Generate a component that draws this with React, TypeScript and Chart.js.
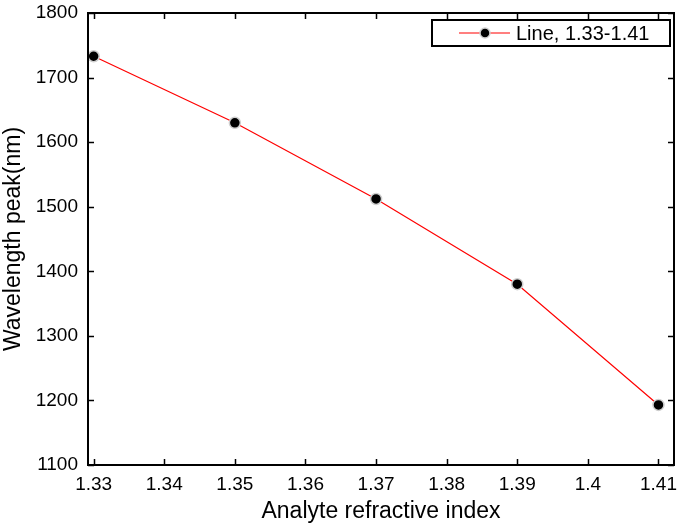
import React, { useEffect, useRef } from "react";
import { Chart, registerables } from "chart.js";

Chart.register(...registerables);

const xValues = [1.33, 1.35, 1.37, 1.39, 1.41];
const yValues = [1733, 1630, 1512, 1380, 1193];
const xTicks = [1.33, 1.34, 1.35, 1.36, 1.37, 1.38, 1.39, 1.4, 1.41];
const yTicks = [1100, 1200, 1300, 1400, 1500, 1600, 1700, 1800];
const seriesLabel = "Line, 1.33-1.41";
const xTitle = "Analyte refractive index";
const yTitle = "Wavelength peak(nm)";

const FONT = "Arial, 'Liberation Sans', sans-serif";

const framePlugin = {
  id: "frame",
  afterDraw(chart: any) {
    const { ctx, chartArea } = chart;
    const { left, right, top, bottom } = chartArea;
    const xs = chart.scales.x;
    const ys = chart.scales.y;
    ctx.save();
    ctx.strokeStyle = "#000";
    ctx.lineWidth = 2;
    ctx.strokeRect(left, top, right - left, bottom - top);
    ctx.lineWidth = 1.5;
    const tl = 6;
    ctx.beginPath();
    xTicks.forEach((v) => {
      const px = Math.round(xs.getPixelForValue(v)) + 0.5;
      ctx.moveTo(px, bottom);
      ctx.lineTo(px, bottom - tl);
      ctx.moveTo(px, top);
      ctx.lineTo(px, top + tl);
    });
    yTicks.forEach((v) => {
      const py = Math.round(ys.getPixelForValue(v)) + 0.5;
      ctx.moveTo(left, py);
      ctx.lineTo(left + tl, py);
      ctx.moveTo(right, py);
      ctx.lineTo(right - tl, py);
    });
    ctx.stroke();

    // legend
    const bx = 432, by = 20, bw = 238, bh = 26;
    ctx.lineWidth = 2;
    ctx.strokeRect(bx, by, bw, bh);
    const ly = by + bh / 2;
    ctx.strokeStyle = "#ff0000";
    ctx.lineWidth = 1.2;
    ctx.beginPath();
    ctx.moveTo(bx + 27, ly);
    ctx.lineTo(bx + 78, ly);
    ctx.stroke();
    ctx.beginPath();
    ctx.arc(bx + 53, ly, 5, 0, Math.PI * 2);
    ctx.fillStyle = "#000";
    ctx.fill();
    ctx.strokeStyle = "#cfcfcf";
    ctx.lineWidth = 1.5;
    ctx.stroke();
    ctx.fillStyle = "#000";
    ctx.font = `20px ${FONT}`;
    ctx.textBaseline = "middle";
    ctx.textAlign = "left";
    ctx.fillText(seriesLabel, bx + 84, ly + 1);
    ctx.restore();
  },
};

export default function App() {
  const ref = useRef<HTMLCanvasElement>(null);
  useEffect(() => {
    if (!ref.current) return;
    const chart = new Chart(ref.current, {
      type: "line",
      data: {
        datasets: [
          {
            label: seriesLabel,
            data: xValues.map((x, i) => ({ x, y: yValues[i] })),
            borderColor: "#ff0000",
            borderWidth: 1.2,
            pointRadius: 5.5,
            pointBackgroundColor: "#000",
            pointBorderColor: "#cfcfcf",
            pointBorderWidth: 1.5,
            tension: 0,
          },
        ],
      },
      options: {
        animation: false,
        responsive: false,
        devicePixelRatio: 1,
        layout: { padding: { left: 0, top: 13, right: 11, bottom: 0 } },
        plugins: { legend: { display: false }, tooltip: { enabled: false } },
        scales: {
          x: {
            type: "linear",
            min: 1.3292,
            max: 1.4122,
            afterBuildTicks: (s: any) => {
              s.ticks = xTicks.map((v) => ({ value: v }));
            },
            afterFit: (s: any) => {
              s.height = 61;
              s.paddingLeft = 0;
              s.paddingRight = 0;
            },
            grid: { display: false, drawTicks: false },
            border: { display: false },
            ticks: {
              padding: 8,
              color: "#000",
              font: { size: 19, family: FONT },
              callback: (v: any) => String(Number(v)),
            },
            title: {
              display: true,
              text: xTitle,
              color: "#000",
              font: { size: 23, family: FONT },
              padding: { top: 0, bottom: 1 },
            },
          },
          y: {
            type: "linear",
            min: 1100,
            max: 1800,
            afterBuildTicks: (s: any) => {
              s.ticks = yTicks.map((v) => ({ value: v }));
            },
            afterFit: (s: any) => {
              s.width = 88;
              s.paddingTop = 0;
              s.paddingBottom = 0;
            },
            grid: { display: false, drawTicks: false },
            border: { display: false },
            ticks: {
              padding: 10,
              color: "#000",
              font: { size: 19, family: FONT },
              callback: (v: any) => String(Number(v)),
            },
            title: {
              display: true,
              text: yTitle,
              color: "#000",
              font: { size: 23, family: FONT },
              padding: { top: 0, bottom: 0 },
            },
          },
        },
      },
      plugins: [framePlugin],
    } as any);
    return () => chart.destroy();
  }, []);
  return (
    <div style={{ position: "absolute", left: 0, top: 0, width: 685, height: 526, background: "#fff" }}>
      <canvas ref={ref} width={685} height={526} />
    </div>
  );
}
